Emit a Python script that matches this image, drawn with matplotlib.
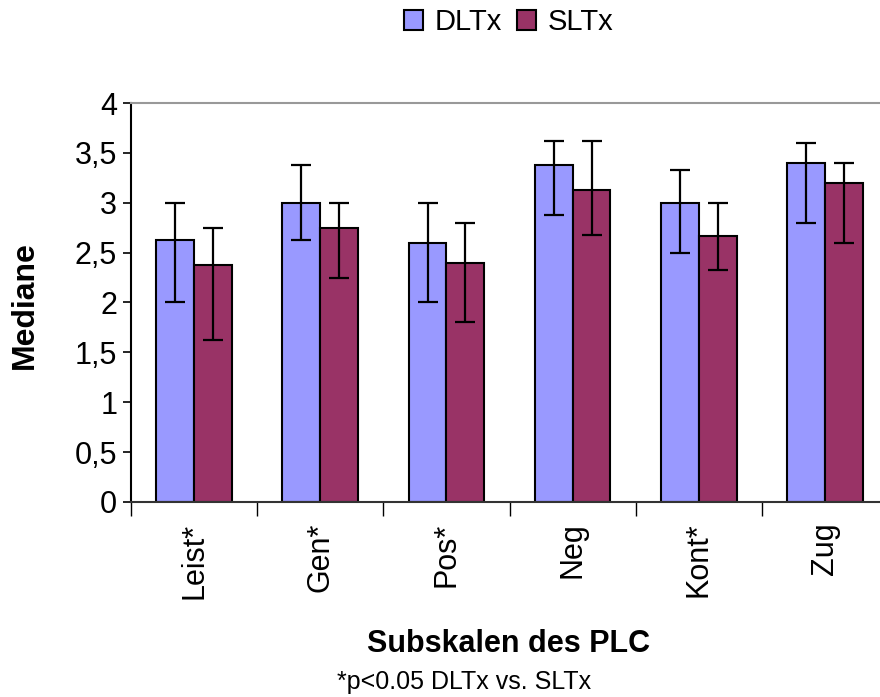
import matplotlib
matplotlib.use('Agg')
import matplotlib.pyplot as plt
import numpy as np

plt.rcParams['font.family'] = ['Liberation Sans', 'DejaVu Sans']

# Daten aus dem Bild
kategorien = ['Leist*', 'Gen*', 'Pos*', 'Neg', 'Kont*', 'Zug']
dltx = [2.625, 3.0, 2.6, 3.375, 3.0, 3.4]
dltx_oben = [3.0, 3.375, 3.0, 3.625, 3.33, 3.6]
dltx_unten = [2.0, 2.625, 2.0, 2.875, 2.5, 2.8]
sltx = [2.375, 2.75, 2.4, 3.125, 2.67, 3.2]
sltx_oben = [2.75, 3.0, 2.8, 3.625, 3.0, 3.4]
sltx_unten = [1.625, 2.25, 1.8, 2.675, 2.33, 2.6]

fig = plt.figure(figsize=(8.8, 6.97), dpi=100)
ax = fig.add_axes([0.149, 0.28, 0.86, 0.572])

x = np.arange(len(kategorien))
w = 0.3

err_d = [np.array(dltx) - np.array(dltx_unten), np.array(dltx_oben) - np.array(dltx)]
err_s = [np.array(sltx) - np.array(sltx_unten), np.array(sltx_oben) - np.array(sltx)]

ek = dict(ecolor='black', elinewidth=1.6, capsize=7, capthick=1.6)
ax.bar(x - w / 2, dltx, w, color='#9999FF', edgecolor='black', linewidth=1.5,
       yerr=err_d, error_kw=ek, label='DLTx')
ax.bar(x + w / 2, sltx, w, color='#993366', edgecolor='black', linewidth=1.5,
       yerr=err_s, error_kw=ek, label='SLTx')

ax.set_xlim(-0.5, len(kategorien) - 0.5)
ax.set_ylim(0, 4)
ax.set_yticks(np.arange(0, 4.01, 0.5))
ax.set_yticklabels(['0', '0,5', '1', '1,5', '2', '2,5', '3', '3,5', '4'], fontsize=22)
ax.tick_params(axis='y', length=6, width=1.2, pad=4)

# Kategorien-Trennstriche als Ticks, Beschriftung in der Mitte
ax.set_xticks(np.arange(-0.5, len(kategorien), 1.0))
ax.set_xticklabels([])
ax.set_xticks(x, minor=True)
ax.set_xticklabels(kategorien, minor=True, rotation=90, fontsize=22)
ax.tick_params(axis='x', which='major', length=10, width=1.0)
ax.tick_params(axis='x', which='minor', length=0, pad=15)

ax.spines['left'].set_linewidth(1.5)
ax.spines['bottom'].set_linewidth(1.5)
ax.spines['bottom'].set_color('#333333')
ax.spines['top'].set_color('#999999')
ax.spines['top'].set_linewidth(1.5)
ax.spines['right'].set_visible(False)

fig.text(0.028, 0.562, 'Mediane', fontsize=23, fontweight='bold',
         rotation=90, ha='center', va='center')
fig.text(0.578, 0.076, 'Subskalen des PLC', fontsize=22, fontweight='bold',
         ha='center', va='center')
fig.text(0.527, 0.021, '*p<0.05 DLTx vs. SLTx', fontsize=18,
         ha='center', va='center')

fig.legend(loc='center', bbox_to_anchor=(0.578, 0.968), ncol=2, frameon=False,
           fontsize=21, handlelength=0.65, handleheight=0.65, handletextpad=0.4,
           columnspacing=0.5)

fig.savefig('out.png', dpi=100)
